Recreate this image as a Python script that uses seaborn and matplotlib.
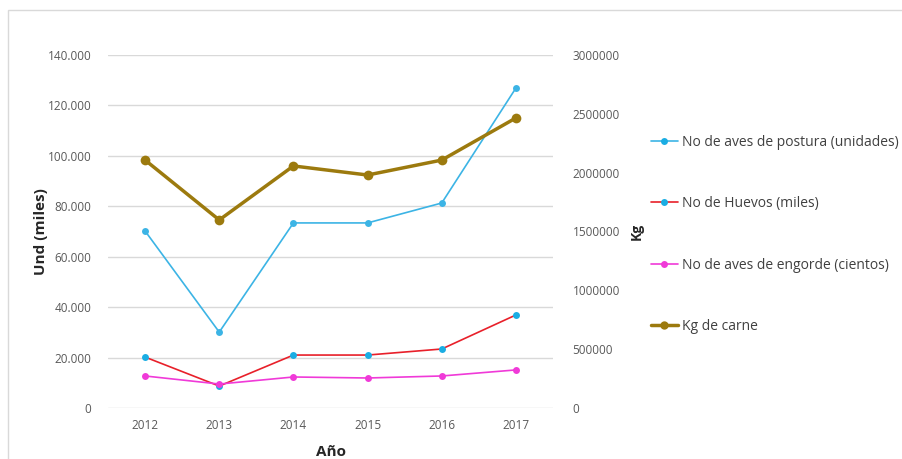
import matplotlib
matplotlib.use("Agg")
import matplotlib.pyplot as plt
import seaborn as sns
import pandas as pd
from matplotlib.lines import Line2D
from matplotlib.patches import Rectangle
from matplotlib.ticker import FuncFormatter

years = ["2012", "2013", "2014", "2015", "2016", "2017"]
aves_postura = [70200, 30100, 73400, 73400, 81300, 126900]
huevos = [20200, 8700, 21000, 21000, 23400, 36900]
aves_engorde = [12700, 9500, 12300, 11900, 12700, 15100]
kg_carne = [2107000, 1598000, 2057000, 1980000, 2107000, 2465000]

labels = ["No de aves de postura (unidades)", "No de Huevos (miles)",
          "No de aves de engorde (cientos)", "Kg de carne"]

sns.set_theme(style="white")
plt.rcParams['font.family'] = ['Open Sans', 'DejaVu Sans']

df = pd.DataFrame({"Año": years, "postura": aves_postura, "huevos": huevos,
                   "engorde": aves_engorde, "carne": kg_carne})

fig = plt.figure(figsize=(9.02, 4.59), dpi=100)
fig.patches.append(Rectangle((8/902, -0.1), 1.2, 1 - 10/459 + 0.1, transform=fig.transFigure,
                             fill=False, edgecolor="#D9D9D9", linewidth=1.0))
ax = fig.add_axes([108/902, 1 - 408/459, 445/902, 353/459])
ax2 = ax.twinx()

cyan = "#3CB4E5"
cyan_m = "#1AADE3"
red = "#E8202A"
mag = "#F03AD8"
brown = "#9C7A0E"

sns.lineplot(data=df, x="Año", y="postura", ax=ax, color=cyan, marker="o", markersize=5,
             markeredgewidth=0, linewidth=1.2, sort=False)
sns.lineplot(data=df, x="Año", y="huevos", ax=ax, color=red, marker="o", markersize=5,
             markeredgewidth=0, linewidth=1.2, sort=False)
ax.lines[-1].set_markerfacecolor(cyan_m)
sns.lineplot(data=df, x="Año", y="engorde", ax=ax, color=mag, marker="o", markersize=5,
             markeredgewidth=0, linewidth=1.2, sort=False)
sns.lineplot(data=df, x="Año", y="carne", ax=ax2, color=brown, marker="o", markersize=7,
             markeredgewidth=0, linewidth=2.5, sort=False)

ax.set_ylim(0, 140000)
ax2.set_ylim(0, 3000000)
ax.set_xlim(-0.5, 5.5)
ax.set_yticks(range(0, 140001, 20000))
ax2.set_yticks(range(0, 3000001, 500000))
ax.yaxis.set_major_formatter(FuncFormatter(lambda v, p: "0" if v == 0 else f"{int(v):,}".replace(",", ".")))
ax2.yaxis.set_major_formatter(FuncFormatter(lambda v, p: f"{int(v)}"))

ax.grid(axis="y", color="#D9D9D9", linewidth=1.0)
ax.grid(axis="x", visible=False)
ax2.grid(False)
for a in (ax, ax2):
    for s in a.spines.values():
        s.set_visible(False)
    a.tick_params(length=0, labelsize=8.5, labelcolor="#595959")
ax.tick_params(axis="y", pad=12)
ax.tick_params(axis="x", pad=8)
ax2.tick_params(axis="y", pad=14)

ax.set_xlabel("Año", fontsize=11, fontweight="bold", color="#262626", labelpad=9)
ax.set_ylabel("Und (miles)", fontsize=11, fontweight="bold", color="#262626", labelpad=0)
ax2.set_ylabel("Kg", fontsize=10, fontweight="bold", color="#262626", labelpad=7)

handles = [
    Line2D([], [], color=cyan, marker="o", markersize=5, markerfacecolor=cyan_m, markeredgewidth=0, linewidth=1.2),
    Line2D([], [], color=red, marker="o", markersize=5, markerfacecolor=cyan_m, markeredgewidth=0, linewidth=1.2),
    Line2D([], [], color=mag, marker="o", markersize=5, markeredgewidth=0, linewidth=1.2),
    Line2D([], [], color=brown, marker="o", markersize=6, markeredgewidth=0, linewidth=2.5),
]
fig.legend(handles, labels, loc="upper left", bbox_to_anchor=(645/902, 1 - 129/459),
           frameon=False, fontsize=10, handlelength=2.0, handletextpad=0.3,
           labelspacing=3.35, borderaxespad=0, labelcolor="#404040")

fig.savefig("out.png", dpi=100)
